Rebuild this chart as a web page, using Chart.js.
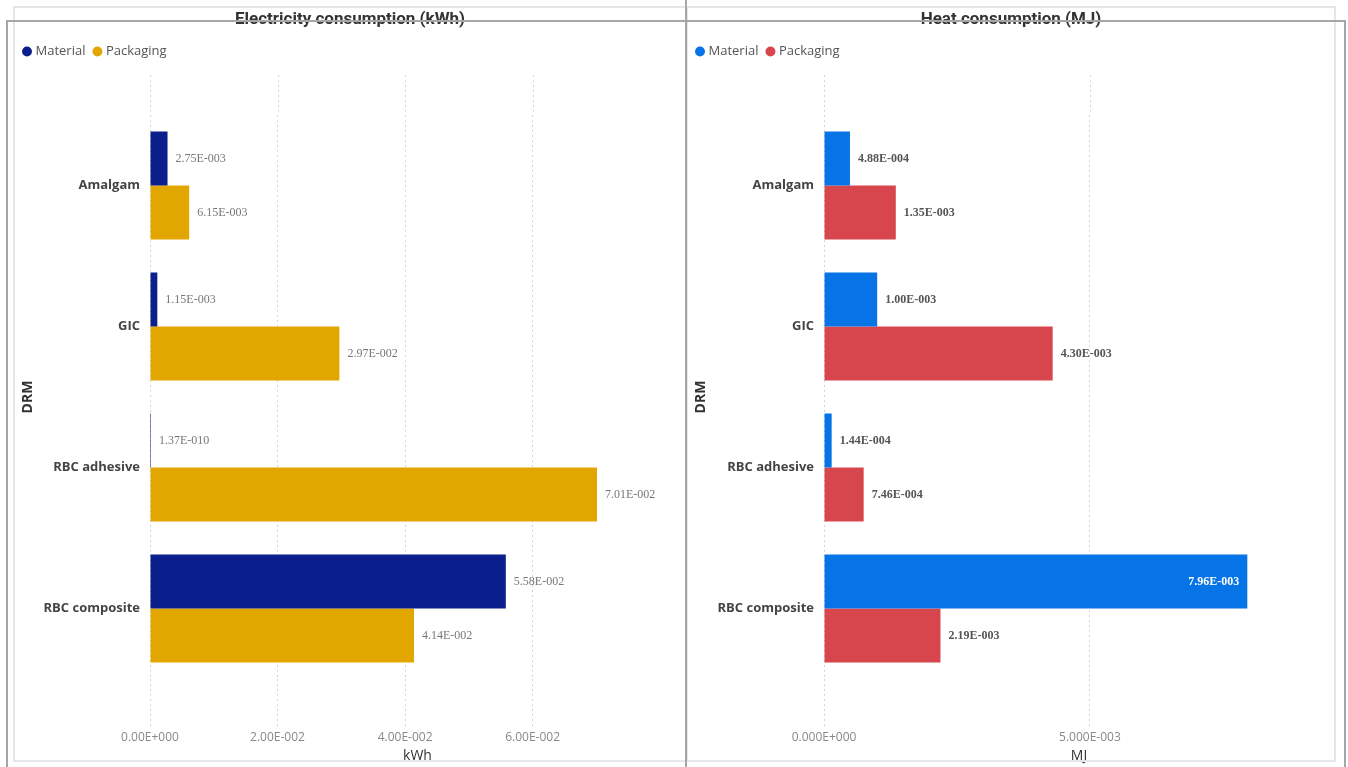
<!DOCTYPE html>
<html>
<head>
<meta charset="utf-8">
<script src="https://cdn.jsdelivr.net/npm/chart.js@4.4.1/dist/chart.umd.min.js"></script>
<style>
  body { margin: 0; background: #fff; width: 1348px; height: 767px; overflow: hidden; position: relative; }
  .panel { position: absolute; top: 0; height: 767px; }
  .frame { position: absolute; pointer-events: none; box-sizing: border-box; }
</style>
</head>
<body>
<div class="panel" style="left:7px;width:679px"><canvas id="elec"></canvas></div>
<div class="panel" style="left:688px;width:646px"><canvas id="heat"></canvas></div>

<!-- light inner frames -->
<div class="frame" style="left:13px;top:6px;width:675px;height:756px;border:2px solid #e6e6e6"></div>
<div class="frame" style="left:686px;top:6px;width:650px;height:756px;border:2px solid #e6e6e6"></div>
<!-- dark outer frame + divider -->
<div class="frame" style="left:6px;top:20px;width:1340px;height:760px;border:2px solid #a6a6a6;border-bottom:none"></div>
<div class="frame" style="left:685px;top:0;width:2px;height:767px;background:#a6a6a6"></div>

<script>
(function () {
    "use strict";

    // Data
    var categories = ["Amalgam", "GIC", "RBC adhesive", "RBC composite"];
    var elecMaterial = [2.75e-3, 1.15e-3, 1.37e-10, 5.58e-2];
    var elecPackaging = [6.15e-3, 2.97e-2, 7.01e-2, 4.14e-2];
    var heatMaterial = [4.88e-4, 1.00e-3, 1.44e-4, 7.96e-3];
    var heatPackaging = [1.35e-3, 4.30e-3, 7.46e-4, 2.19e-3];

    Chart.defaults.font.family = "'Open Sans', sans-serif";

    // 1.23E-004 style numbers
    function sci(v, digits) {
        if (v === 0) return (0).toFixed(digits) + "E+000";
        var e = Math.floor(Math.log10(Math.abs(v)));
        var m = v / Math.pow(10, e);
        if (Math.abs(+m.toFixed(digits)) >= 10) { e++; m = v / Math.pow(10, e); }
        return m.toFixed(digits) + "E" + (e < 0 ? "-" : "+") + String(Math.abs(e)).padStart(3, "0");
    }

    // Extra room under the legend
    var legendSpace = {
        id: "legendSpace",
        beforeInit: function (chart) {
            var fit = chart.legend.fit;
            chart.legend.fit = function () {
                fit.call(this);
                this.height = 80;
            };
        }
    };

    // Dotted grid continues a bit above the plot
    var gridTop = {
        id: "gridTop",
        beforeDatasetsDraw: function (chart) {
            var x = chart.scales.x, ctx = chart.ctx, top = chart.chartArea.top;
            ctx.save();
            ctx.strokeStyle = "#d4d4d4";
            ctx.lineWidth = 1;
            ctx.setLineDash([2, 3]);
            x.ticks.forEach(function (t) {
                var px = Math.round(x.getPixelForValue(t.value)) + 0.5;
                ctx.beginPath();
                ctx.moveTo(px, top - 40);
                ctx.lineTo(px, top);
                ctx.stroke();
            });
            ctx.restore();
        }
    };

    // Value labels next to bars (inside the bar when there is no room)
    var valueLabels = {
        id: "valueLabels",
        afterDatasetsDraw: function (chart, args, opts) {
            var ctx = chart.ctx, limit = chart.chartArea.right - opts.reserve;
            ctx.save();
            ctx.textBaseline = "middle";
            chart.data.datasets.forEach(function (ds, i) {
                chart.getDatasetMeta(i).data.forEach(function (bar, j) {
                    var text = sci(ds.data[j], 2);
                    ctx.font = opts.font;
                    var w = ctx.measureText(text).width;
                    if (bar.x + 8 + w > limit) {
                        ctx.font = opts.insideFont;
                        ctx.fillStyle = "#fff";
                        ctx.textAlign = "right";
                        ctx.fillText(text, bar.x - 8, bar.y);
                    } else {
                        ctx.fillStyle = opts.color;
                        ctx.textAlign = "left";
                        ctx.fillText(text, bar.x + 8, bar.y);
                    }
                });
            });
            ctx.restore();
        }
    };

    function buildChart(id, cfg) {
        return new Chart(document.getElementById(id), {
            type: "bar",
            data: {
                labels: categories,
                datasets: [{
                    label: "Material",
                    data: cfg.material,
                    backgroundColor: cfg.colors[0],
                    minBarLength: 1
                }, {
                    label: "Packaging",
                    data: cfg.packaging,
                    backgroundColor: cfg.colors[1]
                }]
            },
            plugins: [legendSpace, gridTop, valueLabels],
            options: {
                indexAxis: "y",
                responsive: true,
                maintainAspectRatio: false,
                animation: false,
                datasets: { bar: { categoryPercentage: 0.766, barPercentage: 1 } },
                layout: { padding: { left: cfg.padLeft, right: cfg.padRight, top: 0, bottom: 0 } },
                plugins: {
                    title: {
                        display: true,
                        text: cfg.title,
                        color: "#333",
                        font: { family: "Roboto", size: 17, weight: "bold" },
                        padding: { top: 10, bottom: 4.6 }
                    },
                    legend: {
                        align: "start",
                        labels: {
                            usePointStyle: true,
                            pointStyle: "circle",
                            boxWidth: 4,
                            boxHeight: 7,
                            padding: 10,
                            color: "#555",
                            font: { size: 13 }
                        }
                    },
                    tooltip: { enabled: false },
                    valueLabels: cfg.labels
                },
                scales: {
                    x: {
                        min: 0,
                        max: cfg.max,
                        afterBuildTicks: function (s) {
                            s.ticks = s.ticks.filter(function (t) { return t.value <= cfg.lastTick + 1e-12; });
                        },
                        afterFit: function (s) { s.height = 88; },
                        ticks: {
                            stepSize: cfg.step,
                            color: "#888",
                            font: { size: 12 },
                            padding: 3,
                            callback: function (v) { return sci(v, cfg.tickDigits); }
                        },
                        grid: {
                            color: "#d4d4d4",
                            tickColor: "#d4d4d4",
                            tickLength: 48,
                            tickBorderDash: [2, 3]
                        },
                        border: { display: false, dash: [2, 3] },
                        title: {
                            display: true,
                            text: cfg.unit,
                            color: "#333",
                            font: { size: 14 },
                            padding: { top: 2, bottom: 3 }
                        }
                    },
                    y: {
                        afterFit: function (s) { s.width = cfg.yWidth; },
                        ticks: { color: "#444", font: { size: 13, weight: "bold" }, padding: 10 },
                        grid: { display: false, drawTicks: false },
                        border: { display: false },
                        title: {
                            display: true,
                            text: "DRM",
                            color: "#333",
                            font: { size: 14, weight: "bold" },
                            padding: { top: 5, bottom: 4 }
                        }
                    }
                }
            }
        });
    }

    // Electricity chart
    buildChart("elec", {
        title: "Electricity consumption (kWh)",
        unit: "kWh",
        material: elecMaterial,
        packaging: elecPackaging,
        colors: ["#0b1f8c", "#e1a600"],
        max: 0.0839,
        step: 0.02,
        lastTick: 0.06,
        tickDigits: 2,
        padLeft: 8,
        padRight: 1,
        yWidth: 135,
        labels: { font: "12px 'Liberation Serif'", insideFont: "bold 12px 'Liberation Serif'", color: "#777", reserve: 0 }
    });

    // Heat chart
    buildChart("heat", {
        title: "Heat consumption (MJ)",
        unit: "MJ",
        material: heatMaterial,
        packaging: heatPackaging,
        colors: ["#0673e6", "#d6464c"],
        max: 0.00959,
        step: 0.005,
        lastTick: 0.005,
        tickDigits: 3,
        padLeft: 0,
        padRight: 0,
        yWidth: 136,
        labels: { font: "bold 12px 'Liberation Serif'", insideFont: "bold 12px 'Liberation Serif'", color: "#555", reserve: 40 }
    });

})();
</script>
</body>
</html>
